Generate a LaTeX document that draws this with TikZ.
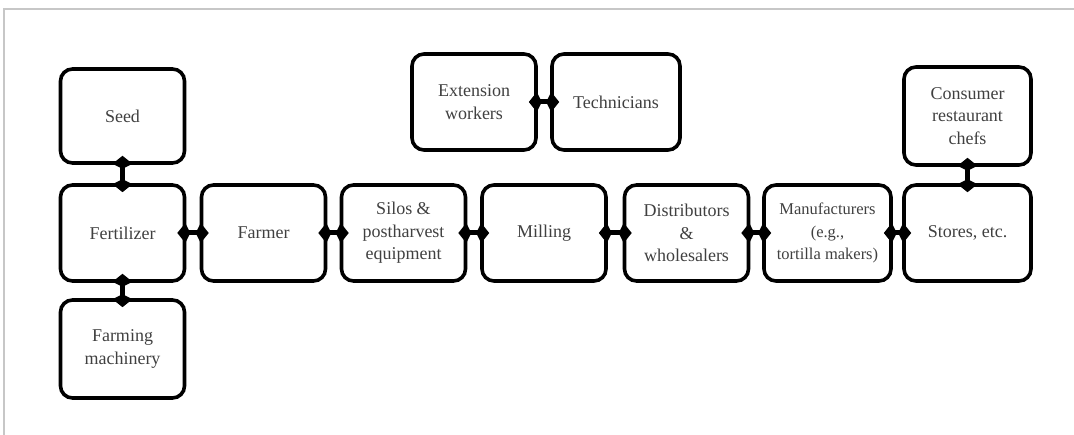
\documentclass[tikz,border=0pt]{standalone}
\usepackage{fontspec}
\setmainfont{Liberation Serif}
\usetikzlibrary{arrows.meta}
\begin{document}
\begin{tikzpicture}[x=1pt,y=-1pt,
  chainbox/.style={draw=black, line width=3.6pt, rounded corners=12pt,
    minimum width=124pt, minimum height=96pt, align=center,
    text=black!75, font=\fontsize{18}{22.5}\selectfont, inner sep=1pt},
  link/.style={line width=5pt, draw=black,
    {Kite[length=13pt,width=20pt,inset=5pt]}-{Kite[length=13pt,width=20pt,inset=5pt]},
    shorten <=-9pt, shorten >=-9pt},
  frameline/.style={draw=black!22, line width=1.5pt}]
  \useasboundingbox (0,0) rectangle (1074,435);

  % thin frame along the top and left edges
  \draw[frameline] (4,435) -- (4,9) -- (1074,9);

  % main chain
  \node[chainbox] (fert)    at (122.5,233) {Fertilizer};
  \node[chainbox] (farmer)  at (263.5,233) {Farmer};
  \node[chainbox] (silos)   at (403.5,233) {Silos \&\\postharvest\\equipment};
  \node[chainbox] (milling) at (544,233)   {Milling};
  \node[chainbox] (dist)    at (686.5,233) {Distributors\\\&\\wholesalers};
  \node[chainbox, minimum width=127pt, font=\fontsize{16.5}{22.5}\selectfont] (manuf) at (827.5,233) {Manufacturers\\(e.g.,\\tortilla makers)};
  \node[chainbox, minimum width=127pt] (stores) at (967.5,233) {Stores, etc.};

  % boxes above and below the chain
  \node[chainbox, minimum height=94pt] (seed) at (122.5,116) {Seed};
  \node[chainbox, minimum height=98pt] (mach) at (122.5,349) {Farming\\machinery};
  \node[chainbox, minimum width=127pt, minimum height=98pt] (cons) at (967.5,116) {Consumer\\restaurant\\chefs};
  \node[chainbox] (ext)  at (474,102) {Extension\\workers};
  \node[chainbox, minimum width=128pt] (tech) at (616,102) {Technicians};

  % two-way links
  \draw[link] (fert.east)    -- (farmer.west);
  \draw[link] (farmer.east)  -- (silos.west);
  \draw[link] (silos.east)   -- (milling.west);
  \draw[link] (milling.east) -- (dist.west);
  \draw[link] (dist.east)    -- (manuf.west);
  \draw[link] (manuf.east)   -- (stores.west);
  \draw[link] (seed.south)   -- (fert.north);
  \draw[link] (fert.south)   -- (mach.north);
  \draw[link] (cons.south)   -- (stores.north);
  \draw[link] (ext.east)     -- (tech.west);
\end{tikzpicture}
\end{document}
